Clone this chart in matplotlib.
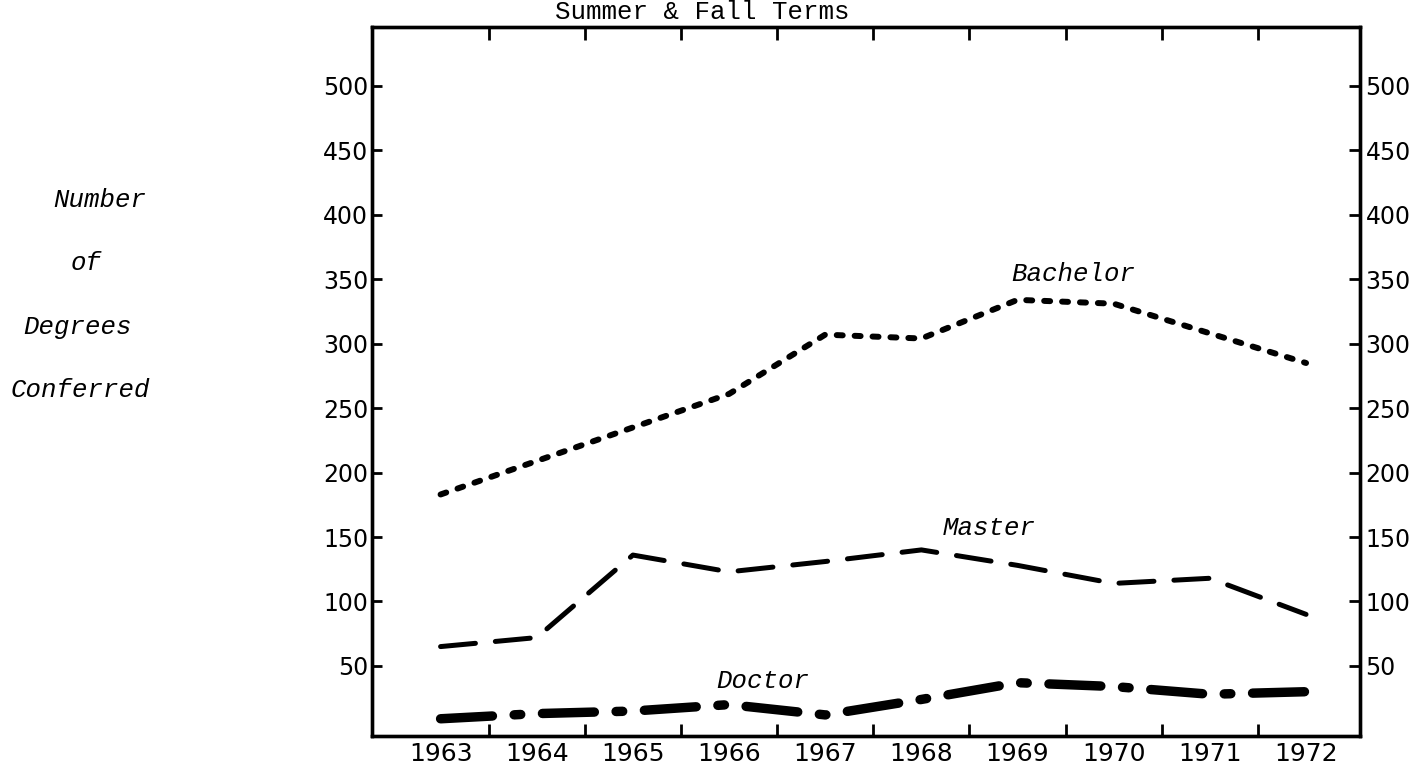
import numpy as np
import matplotlib
matplotlib.use("Agg")
import matplotlib.pyplot as plt

years = [1963, 1964, 1965, 1966, 1967, 1968, 1969, 1970, 1971, 1972]
bachelor = [183, 209, 235, 261, 307, 304, 334, 331, 308, 285]
master = [65, 72, 136, 123, 131, 140, 128, 114, 118, 90]
doctor = [9, 13, 15, 20, 12, 24, 37, 34, 28, 30]
y_ticks = [50, 100, 150, 200, 250, 300, 350, 400, 450, 500]

mono = "Liberation Mono"

fig = plt.figure(figsize=(14.21, 7.74), dpi=100)
ax = fig.add_axes([0.262, 0.0497, 0.695, 0.916])

ax.plot(years, bachelor, color="black", lw=4.3, dashes=(1.0, 2.0),
        dash_capstyle="round", solid_joinstyle="round")
ax.plot(years, master, color="black", lw=3.6, dashes=(7, 4),
        dash_capstyle="round", solid_joinstyle="round")
ax.plot(years, doctor, color="black", lw=6.8, dashes=(5.5, 2.3, 0.7, 2.3),
        dash_capstyle="round", solid_joinstyle="round")

ax.set_xlim(1962.29, 1972.56)
ax.set_ylim(-4, 546)

# year labels without marks, tick marks between the years
ax.set_xticks(years)
ax.set_xticks(np.arange(1963.5, 1972, 1), minor=True)
ax.tick_params(axis="x", which="major", length=0, pad=5, labelsize=18)
ax.tick_params(axis="x", which="minor", direction="in", length=9, width=2,
               top=True, bottom=True)
ax.set_yticks(y_ticks)
ax.tick_params(axis="y", direction="in", length=7, width=2, pad=3, labelsize=17)
for s in ax.spines.values():
    s.set_linewidth(2.4)

ax2 = ax.twinx()
ax2.set_ylim(-4, 546)
ax2.set_yticks(y_ticks)
ax2.tick_params(axis="y", direction="in", length=8, width=2, pad=4, labelsize=17)
for s in ax2.spines.values():
    s.set_linewidth(2.4)

lab = dict(family=mono, style="italic", size=18.5, ha="center", va="center")
ax.text(1969.58, 354, "Bachelor", **lab)
ax.text(1968.70, 157, "Master", **lab)
ax.text(1966.35, 38, "Doctor", **lab)

fig.text(702 / 1421, 1 - 19 / 774, "Summer & Fall Terms", family=mono,
         size=18.5, ha="center", va="baseline")

side = dict(family=mono, style="italic", size=18.5, ha="center", va="center")
fig.text(100 / 1421, 1 - 200 / 774, "Number", **side)
fig.text(86 / 1421, 1 - 263 / 774, "of", **side)
fig.text(78 / 1421, 1 - 327 / 774, "Degrees", **side)
fig.text(80 / 1421, 1 - 390 / 774, "Conferred", **side)

fig.savefig("out.png", dpi=100)
